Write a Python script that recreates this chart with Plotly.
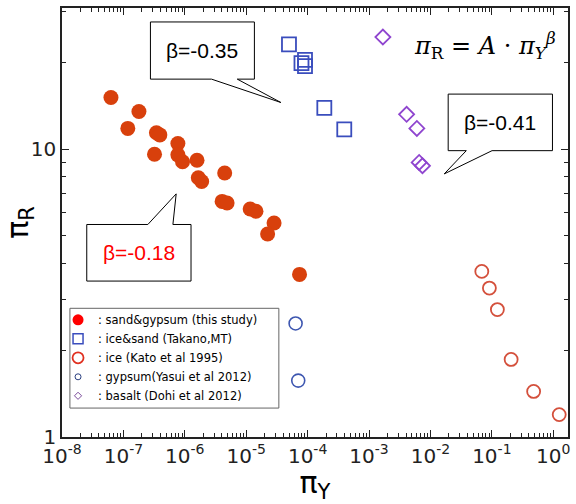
import plotly.graph_objects as go

# ---------------- data ----------------
sand_gypsum_x = [6.27e-8, 1.79e-7, 1.18e-7, 3.45e-7, 3.92e-7, 7.71e-7, 3.21e-7, 7.71e-7, 9.18e-7, 1.58e-6,
                 4.46e-6, 1.66e-6, 1.88e-6, 4.05e-6, 4.88e-6, 1.16e-5, 1.44e-5, 2.84e-5, 2.23e-5, 7.38e-5]
sand_gypsum_y = [15.1, 13.5, 11.8, 11.4, 11.2, 10.46, 9.59, 9.55, 9.04, 9.14,
                 8.26, 7.95, 7.72, 6.58, 6.50, 6.19, 6.08, 5.54, 5.07, 3.67]

ice_sand_x = [4.97e-5, 7.94e-5, 9.06e-5, 9.06e-5, 1.87e-4, 3.95e-4]
ice_sand_y = [23.1, 19.9, 20.4, 19.4, 13.9, 11.7]

ice_kato_x = [0.0686, 0.0912, 0.123, 0.206, 0.479, 1.25]
ice_kato_y = [3.76, 3.29, 2.77, 1.86, 1.44, 1.196]

gypsum_yasui_x = [6.37e-5, 7.03e-5]
gypsum_yasui_y = [2.48, 1.57]

basalt_x = [1.68e-3, 4.09e-3, 6.01e-3, 6.55e-3, 7.41e-3]
basalt_y = [24.5, 13.2, 11.8, 8.99, 8.75]

legend_names = [": sand&gypsum (this study)", ": ice&sand (Takano,MT)", ": ice (Kato et al 1995)",
                ": gypsum(Yasui et al 2012)", ": basalt (Dohi et al 2012)"]

x_tick_vals = [1e-8, 1e-7, 1e-6, 1e-5, 1e-4, 1e-3, 1e-2, 1e-1, 1e0]
x_tick_labels = ["10<sup>-8</sup>", "10<sup>-7</sup>", "10<sup>-6</sup>", "10<sup>-5</sup>", "10<sup>-4</sup>",
                 "10<sup>-3</sup>", "10<sup>-2</sup>", "10<sup>-1</sup>", "10<sup>0</sup>"]
y_tick_vals = [1, 10]
y_tick_labels = ["1", "10"]

callout_texts = ["β=-0.35", "β=-0.41", "β=-0.18"]
equation_text = "<i>π</i><sub>R</sub> = <i>A</i> · <i>π</i><sub><i>Y</i></sub><sup><i>β</i></sup>"

# ---------------- styles ----------------
C_SG = "#d8400c"
C_IS = "#3a4dbd"
C_KATO = "#d4503c"
C_YASUI = "#3d56b0"
C_BAS = "#8f45cf"

W, H = 576, 504
ML, MR, MT, MB = 59, 6, 7, 67
PW, PH = W - ML - MR, H - MT - MB


def px(xp):
    return (xp - ML) / PW


def py(yp):
    return (H - MB - yp) / PH


fig = go.Figure()

fig.add_trace(go.Scatter(x=sand_gypsum_x, y=sand_gypsum_y, mode="markers", showlegend=False,
                         marker=dict(symbol="circle", size=15, color=C_SG, line=dict(width=0))))
fig.add_trace(go.Scatter(x=ice_sand_x, y=ice_sand_y, mode="markers", showlegend=False,
                         marker=dict(symbol="square-open", size=14, color=C_IS, line=dict(width=1.8))))
fig.add_trace(go.Scatter(x=ice_kato_x, y=ice_kato_y, mode="markers", showlegend=False,
                         marker=dict(symbol="circle-open", size=13, color=C_KATO, line=dict(width=1.8))))
fig.add_trace(go.Scatter(x=gypsum_yasui_x, y=gypsum_yasui_y, mode="markers", showlegend=False,
                         marker=dict(symbol="circle-open", size=13, color=C_YASUI, line=dict(width=1.6))))
fig.add_trace(go.Scatter(x=basalt_x, y=basalt_y, mode="markers", showlegend=False,
                         marker=dict(symbol="diamond-open", size=11.5, color=C_BAS, line=dict(width=1.8))))

# legend-only entries
leg_styles = [
    dict(symbol="circle", size=11, color="#ff0000"),
    dict(symbol="square-open", size=10, color=C_IS, line=dict(width=1.5)),
    dict(symbol="circle-open", size=11, color="#e03020", line=dict(width=1.8)),
    dict(symbol="circle-open", size=6, color="#2a3f80", line=dict(width=1)),
    dict(symbol="diamond-open", size=5.5, color="#7a4a9a", line=dict(width=1)),
]
for name, st in zip(legend_names, leg_styles):
    fig.add_trace(go.Scatter(x=[None], y=[None], mode="markers", name=name, marker=st, showlegend=True))

# legend frame
fig.add_shape(type="rect", xref="paper", yref="paper", x0=px(67), x1=px(278), y0=py(408), y1=py(308),
              line=dict(color="#666", width=1), fillcolor="white", layer="above")

# callout boxes
shape_line = dict(color="black", width=1)
paths = [
    [(148.3, 21), (253.3, 21), (253.3, 78.3), (236, 78.3), (280, 101.7), (210, 78.3), (148.3, 78.3)],
    [(449, 93.3), (554.3, 93.3), (554.3, 150), (493.3, 150), (445, 173.3), (467.3, 150), (449, 150)],
    [(84, 224), (145.7, 224), (174.3, 193.3), (171, 224), (189.3, 224), (189.3, 280.7), (84, 280.7)],
]
for pts in paths:
    d = "M " + " L ".join(f"{px(a):.5f},{py(b):.5f}" for a, b in pts) + " Z"
    fig.add_shape(type="path", path=d, xref="paper", yref="paper", line=shape_line, fillcolor="white",
                  layer="above")

centers = [(200.8, 49.6, "black"), (501.7, 121.7, "black"), (136.7, 252.3, "#ff0000")]
for (cx, cy, col), t in zip(centers, callout_texts):
    fig.add_annotation(x=px(cx), y=py(cy), xref="paper", yref="paper", text=t, showarrow=False,
                       font=dict(family="Liberation Sans", size=21, color=col), xanchor="center", yanchor="middle")

fig.add_annotation(x=px(486), y=py(45), xref="paper", yref="paper", text=equation_text, showarrow=False,
                   font=dict(family="DejaVu Serif", size=24, color="black"), xanchor="center", yanchor="middle")

axis_common = dict(type="log", showline=True, linecolor="#222", linewidth=1.5, mirror="allticks",
                   ticks="inside", ticklen=7, tickwidth=1, tickcolor="#222", showgrid=False, zeroline=False,
                   tickfont=dict(family="DejaVu Sans", size=20, color="#222"),
                   minor=dict(ticks="inside", ticklen=4, tickwidth=1, tickcolor="#222", dtick="D1", showgrid=False))

fig.update_xaxes(**axis_common, range=[-8, 0.24], tickmode="array", tickvals=x_tick_vals, ticktext=x_tick_labels,
                 title=dict(text="π<sub>Y</sub>", font=dict(family="DejaVu Sans", size=30, color="black"), standoff=2))
fig.update_yaxes(**axis_common, range=[0, 1.49], tickmode="array", tickvals=y_tick_vals, ticktext=y_tick_labels,
                 title=dict(text="π<sub>R</sub>", font=dict(family="DejaVu Sans", size=30, color="black"), standoff=4))

fig.update_layout(
    width=W, height=H, margin=dict(l=ML, r=MR, t=MT, b=MB),
    plot_bgcolor="white", paper_bgcolor="white",
    showlegend=True,
    legend=dict(x=px(55), y=py(305), xanchor="left", yanchor="top", bgcolor="rgba(0,0,0,0)",
                borderwidth=0, font=dict(family="DejaVu Sans", size=11.5, color="black"),
                itemwidth=30, tracegroupgap=0, itemclick=False),
)

fig.write_html("out.html", config={"displayModeBar": False},
               post_script="document.body.style.margin='0';document.body.style.overflow='hidden';")
